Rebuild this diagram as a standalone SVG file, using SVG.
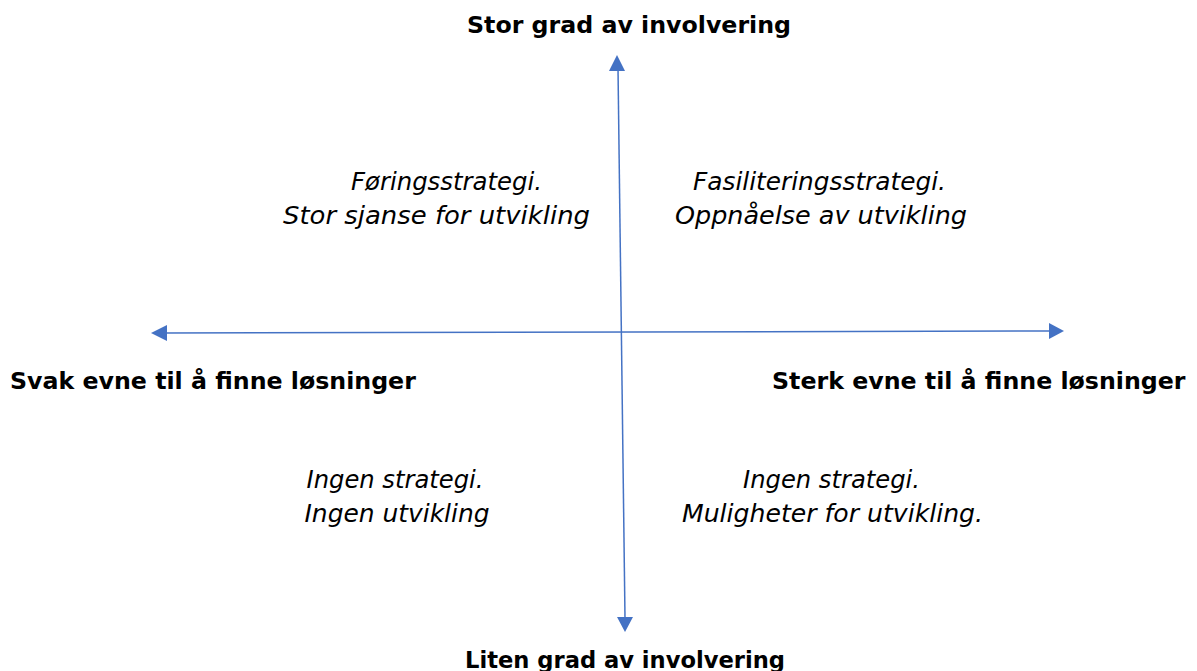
<svg xmlns="http://www.w3.org/2000/svg" width="1197" height="671" viewBox="0 0 1197 671">
  <style>
    .axis { stroke: #4472C4; stroke-width: 1.5; fill: none; }
    .head { fill: #4472C4; }
    .lbl { font-family: "DejaVu Sans", Verdana, sans-serif; font-size: 23.7px; font-weight: bold; fill: #000; }
    .q { font-family: "DejaVu Sans", Verdana, sans-serif; font-size: 24.5px; font-style: italic; fill: #000; text-anchor: middle; }
  </style>
  <rect width="1197" height="671" fill="#fff"/>

  <!-- axes -->
  <g id="connectors">
    <line class="axis" x1="618" y1="68" x2="625" y2="618"/>
    <polygon class="head" points="617,55 609,71 625,71"/>
    <polygon class="head" points="625,632 617,617 633,617"/>
    <line class="axis" x1="164" y1="333" x2="1051" y2="331"/>
    <polygon class="head" points="151,333 167,325 167,341"/>
    <polygon class="head" points="1064,331 1049,323 1049,339"/>
  </g>

  <!-- axis labels -->
  <g id="top-label"><text class="lbl" x="467" y="33">Stor grad av involvering</text></g>
  <g id="bottom-label"><text class="lbl" x="465" y="668" textLength="320" lengthAdjust="spacingAndGlyphs">Liten grad av involvering</text></g>
  <g id="left-label"><text class="lbl" x="10" y="389">Svak evne til å finne løsninger</text></g>
  <g id="right-label"><text class="lbl" x="772" y="389">Sterk evne til å finne løsninger</text></g>

  <!-- quadrants -->
  <g id="q-top-left">
    <text class="q" x="446.5" y="190" textLength="191" lengthAdjust="spacingAndGlyphs">Føringsstrategi.</text>
    <text class="q" x="436.5" y="224" textLength="307" lengthAdjust="spacingAndGlyphs">Stor sjanse for utvikling</text>
  </g>
  <g id="q-top-right">
    <text class="q" x="819.5" y="190" textLength="253" lengthAdjust="spacingAndGlyphs">Fasiliteringsstrategi.</text>
    <text class="q" x="821" y="224" textLength="292" lengthAdjust="spacingAndGlyphs">Oppnåelse av utvikling</text>
  </g>
  <g id="q-bottom-left">
    <text class="q" x="395" y="488" textLength="177" lengthAdjust="spacingAndGlyphs">Ingen strategi.</text>
    <text class="q" x="397" y="522" textLength="185" lengthAdjust="spacingAndGlyphs">Ingen utvikling</text>
  </g>
  <g id="q-bottom-right">
    <text class="q" x="831.5" y="488" textLength="177" lengthAdjust="spacingAndGlyphs">Ingen strategi.</text>
    <text class="q" x="832.5" y="522" textLength="301" lengthAdjust="spacingAndGlyphs">Muligheter for utvikling.</text>
  </g>
</svg>
